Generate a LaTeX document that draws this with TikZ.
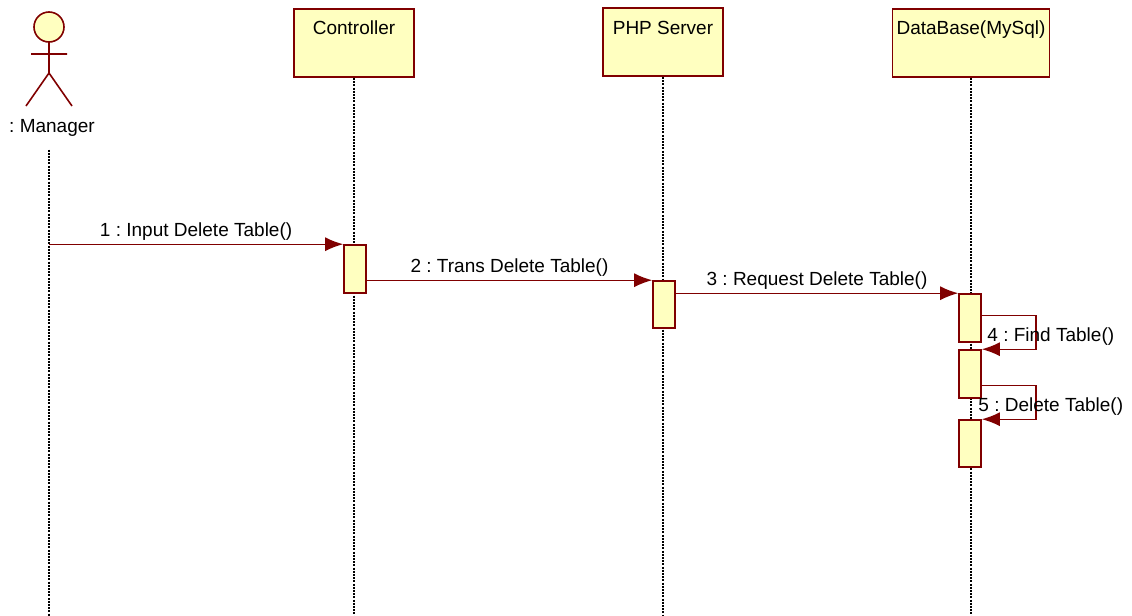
\documentclass[tikz,border=0pt]{standalone}
\usepackage{fontspec}
\setmainfont{Liberation Sans}
\usetikzlibrary{arrows.meta,positioning}
\definecolor{umlred}{RGB}{128,0,0}
\definecolor{umlyellow}{RGB}{255,255,192}
\frenchspacing
\begin{document}
\begin{tikzpicture}[
		x=0.5pt, y=-0.5pt,
		font=\fontsize{9.5}{11}\selectfont,
		objbox/.style={draw=umlred, fill=umlyellow, line width=0.9pt, minimum width=60pt, minimum height=34pt, inner sep=0pt},
		act/.style={draw=umlred, fill=umlyellow, line width=0.8pt, minimum width=11pt, minimum height=24pt, inner sep=0pt},
		msg/.style={draw=umlred, line width=0.7pt, -{Latex[length=9pt,width=7pt]}},
		lifeline/.style={black, line width=0.6pt, dash pattern=on 1pt off 0.6pt},
	]
	\path[use as bounding box] (0,0) rectangle (1132,616);
	\coordinate (bot) at (0,616);
	\coordinate (mgr) at (49,27);
	\node (mgrtxt) at (52,128) {: Manager};
	\node[objbox] (ctrl) at (354,43) {};
	\node[objbox] (php) at (663,42) {};
	\node[objbox, minimum width=78.5pt] (db) at (971,43) {};
	\node (ctrltxt) at ([yshift=-10pt]ctrl.north) {Controller};
	\node (phptxt) at ([yshift=-10.5pt]php.north) {PHP Server};
	\node (dbtxt) at ([yshift=-10.5pt]db.north) {DataBase(MySql)};
	\coordinate (mgrtop) at ([yshift=-3pt]mgrtxt.south -| mgr);
	\draw[lifeline] (mgrtop) -- (mgrtop |- bot);
	\draw[lifeline] (ctrl.south) -- (ctrl.south |- bot);
	\draw[lifeline] (php.south) -- (php.south |- bot);
	\draw[lifeline] (db.south) -- (db.south |- bot);
	\draw[umlred, fill=umlyellow, line width=0.8pt] (mgr) circle (7.5pt);
	\draw[umlred, line width=0.8pt] (49,42) -- (49,73) (31,54) -- (67,54) (26,106) -- (49,73) -- (72,106);
	\node[act] (ctrlact) at (355,269) {};
	\node[act, minimum height=23.5pt] (phpact) at (664,304.5) {};
	\node[act] (dbact1) at (970,318) {};
	\node[act] (dbact2) at (970,374) {};
	\node[act, minimum height=23.5pt] (dbact3) at (970,443.5) {};
	\coordinate (m1) at (mgrtop |- ctrlact.north);
	\draw[msg] (m1) -- node[above, inner sep=1.5pt] {1 : Input Delete Table()} (ctrlact.north west);
	\draw[msg] (ctrlact.east |- phpact.north) -- node[above, inner sep=1.5pt] {2 : Trans Delete Table()} (phpact.north west);
	\draw[msg] (phpact.east |- dbact1.north) -- node[above, inner sep=1.5pt] {3 : Request Delete Table()} (dbact1.north west);
	\draw[msg] ([yshift=-11pt]dbact1.north east) -- ++(54,0) |- node[pos=0.5, above, inner sep=1.5pt, xshift=7.5pt] {4 : Find Table()} (dbact2.north east);
	\draw[msg] ([yshift=-18pt]dbact2.north east) -- ++(54,0) |- node[pos=0.5, above, inner sep=1.5pt, xshift=7.5pt] {5 : Delete Table()} (dbact3.north east);
\end{tikzpicture}
\end{document}
